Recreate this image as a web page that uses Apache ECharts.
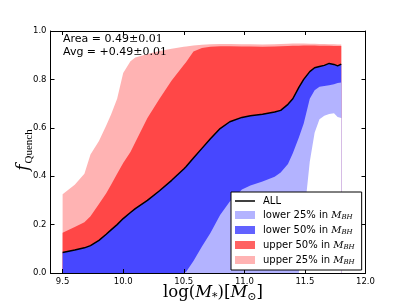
<!DOCTYPE html>
<html>
<head>
<meta charset="utf-8">
<script src="https://cdn.jsdelivr.net/npm/echarts@6/dist/echarts.min.js"></script>
<style>html,body{margin:0;padding:0;background:#fff;}#c{width:407px;height:305px;}</style>
</head>
<body>
<div id="c"></div>
<script>
// log(M*) sample positions
const xVals = [9.5, 9.6, 9.68, 9.73, 9.8, 9.86, 9.9, 9.95, 10.0, 10.06, 10.1, 10.2, 10.3, 10.4, 10.5, 10.52, 10.58, 10.65, 10.72, 10.8, 10.88, 10.98, 11.05, 11.15, 11.25, 11.3, 11.36, 11.4, 11.45, 11.49, 11.54, 11.58, 11.62, 11.66, 11.7, 11.74, 11.77, 11.8];
// f_Quench, all galaxies
const fAll = [0.085, 0.095, 0.104, 0.113, 0.135, 0.16, 0.178, 0.2, 0.225, 0.25, 0.266, 0.30, 0.34, 0.383, 0.43, 0.44, 0.475, 0.515, 0.555, 0.597, 0.625, 0.643, 0.65, 0.656, 0.665, 0.672, 0.697, 0.72, 0.767, 0.80, 0.832, 0.848, 0.853, 0.858, 0.866, 0.862, 0.856, 0.863];
// upper 25% in M_BH
const fUp25 = [0.325, 0.365, 0.41, 0.49, 0.545, 0.61, 0.655, 0.72, 0.826, 0.875, 0.89, 0.905, 0.917, 0.927, 0.935, 0.936, 0.94, 0.943, 0.945, 0.946, 0.946, 0.945, 0.945, 0.944, 0.945, 0.946, 0.947, 0.948, 0.948, 0.948, 0.947, 0.947, 0.946, 0.946, 0.945, 0.945, 0.944, 0.944];
// upper 50% in M_BH
const fUp50 = [0.166, 0.19, 0.21, 0.235, 0.285, 0.33, 0.365, 0.41, 0.455, 0.50, 0.54, 0.64, 0.72, 0.795, 0.86, 0.872, 0.915, 0.93, 0.935, 0.937, 0.937, 0.936, 0.936, 0.935, 0.936, 0.937, 0.938, 0.939, 0.939, 0.94, 0.94, 0.94, 0.939, 0.939, 0.939, 0.938, 0.938, 0.938];
// lower 50% in M_BH
const fLow50 = [0, 0, 0, 0, 0, 0, 0, 0, 0, 0, 0, 0, 0, 0, 0, 0.005, 0.05, 0.11, 0.165, 0.24, 0.295, 0.345, 0.362, 0.378, 0.398, 0.415, 0.45, 0.495, 0.56, 0.618, 0.72, 0.755, 0.77, 0.773, 0.776, 0.78, 0.785, 0.787];
// lower 25% in M_BH
const fLow25 = [0, 0, 0, 0, 0, 0, 0, 0, 0, 0, 0, 0, 0, 0, 0, 0, 0, 0, 0, 0, 0, 0, 0, 0, 0, 0, 0, 0, 0, 0.22, 0.46, 0.58, 0.635, 0.65, 0.657, 0.66, 0.645, 0.64];
const xTicks = [9.5, 10.0, 10.5, 11.0, 11.5, 12.0];
const yTicks = [0.0, 0.2, 0.4, 0.6, 0.8, 1.0];
const legendNames = ['ALL', 'lower 25%', 'lower 50%', 'upper 50%', 'upper 25%'];

const pts = arr => xVals.map((x, i) => [x, arr[i]]);
const C = {pink: '#ffb3b3', red: '#ff4747', blue: '#4747ff', lblue: '#b3b3ff'};

function area(name, data, color) {
  return {
    name: name, type: 'line', data: pts(data), symbol: 'none', silent: true,
    color: color, itemStyle: {color: color},
    lineStyle: {width: 0, opacity: 0},
    areaStyle: {color: color, opacity: 1, origin: 'start'}
  };
}

const tickFont = {fontFamily: 'DejaVu Sans', fontSize: 8.5, color: '#000'};
function xAx(pos, showLabel) {
  return {
    type: 'value', position: pos, min: 9.4, max: 12.0, z: 10,
    axisLine: {show: true, onZero: false, lineStyle: {color: '#000', width: 1}},
    axisTick: {show: true, inside: true, length: 4, customValues: xTicks, lineStyle: {color: '#000'}},
    axisLabel: Object.assign({show: showLabel, customValues: xTicks, margin: 4, formatter: v => v.toFixed(1)}, tickFont),
    splitLine: {show: false}
  };
}
function yAx(pos, showLabel) {
  return {
    type: 'value', position: pos, min: 0, max: 1, interval: 0.2, z: 10,
    axisLine: {show: true, onZero: false, lineStyle: {color: '#000', width: 1}},
    axisTick: {show: true, inside: true, length: 4, lineStyle: {color: '#000'}},
    axisLabel: Object.assign({show: showLabel, margin: 4, formatter: v => v.toFixed(1)}, tickFont),
    splitLine: {show: false}
  };
}

const chart = echarts.init(document.getElementById('c'), null, {renderer: 'canvas'});
chart.setOption({
  animation: false,
  backgroundColor: '#fff',
  grid: {left: 50.5, right: 41.5, top: 31, bottom: 32, containLabel: false},
  xAxis: [xAx('bottom', true), xAx('top', false)],
  yAxis: [yAx('left', true), yAx('right', false)],
  legend: {
    orient: 'vertical', left: 231, top: 192,
    padding: [4, 7, 4, 4], itemGap: 4, itemWidth: 20, itemHeight: 8,
    backgroundColor: '#fff', borderColor: '#000', borderWidth: 1, borderRadius: 0,
    z: 20, selectedMode: false, symbolKeepAspect: true,
    data: [
      {name: legendNames[0], icon: 'path://M0,0 L40,0 L40,3 L0,3 Z', itemStyle: {color: '#000'}},
      {name: legendNames[1], icon: 'rect', itemStyle: {color: C.lblue}},
      {name: legendNames[2], icon: 'rect', itemStyle: {color: '#6262ff'}},
      {name: legendNames[3], icon: 'rect', itemStyle: {color: '#ff6262'}},
      {name: legendNames[4], icon: 'rect', itemStyle: {color: C.pink}}
    ],
    formatter: n => n === 'ALL' ? '{t|ALL}' : '{t|' + n + ' in }{m|M}{s|BH}',
    textStyle: {
      color: '#000',
      rich: {
        t: {fontFamily: 'DejaVu Sans', fontSize: 10, lineHeight: 12, padding: [0, 0, 0, 3]},
        m: {fontFamily: 'DejaVu Serif', fontStyle: 'italic', fontSize: 10, lineHeight: 12},
        s: {fontFamily: 'DejaVu Serif', fontStyle: 'italic', fontSize: 7, lineHeight: 12, verticalAlign: 'bottom', padding: [3, 0, 0, 0]}
      }
    }
  },
  series: [
    area(legendNames[4], fUp25, C.pink),
    area(legendNames[3], fUp50, C.red),
    area(legendNames[2], fAll, C.blue),
    area(legendNames[1], fLow50, C.lblue),
    area('cover', fLow25, '#ffffff'),
    {
      name: legendNames[0], type: 'line', data: pts(fAll), symbol: 'none', silent: true, z: 5,
      color: '#000', itemStyle: {color: '#000'},
      lineStyle: {color: '#000', width: 1.5}
    }
  ],
  graphic: [
    {
      type: 'text', left: 63, top: 34, z: 30,
      style: {
        text: '{s|Area = 0.49}{m|±0.01}',
        rich: {
          s: {fontFamily: 'DejaVu Sans', fontSize: 11, fill: '#000', lineHeight: 13},
          m: {fontFamily: 'DejaVu Serif', fontSize: 11, fill: '#000', lineHeight: 13}
        }
      }
    },
    {
      type: 'text', left: 63, top: 46.5, z: 30,
      style: {
        text: '{s|Avg = +0.49}{m|±0.01}',
        rich: {
          s: {fontFamily: 'DejaVu Sans', fontSize: 11, fill: '#000', lineHeight: 13},
          m: {fontFamily: 'DejaVu Serif', fontSize: 11, fill: '#000', lineHeight: 13}
        }
      }
    },
    {
      type: 'text', x: 213, y: 293, z: 30,
      style: {
        text: '{r|log(}{i|M}{b|*}{r|)[}{i|M}{b|⊙}{r|]}',
        align: 'center', verticalAlign: 'middle',
        rich: {
          r: {fontFamily: 'DejaVu Serif', fontSize: 16.5, fill: '#000', lineHeight: 19},
          i: {fontFamily: 'DejaVu Serif', fontStyle: 'italic', fontSize: 16.5, fill: '#000', lineHeight: 19},
          b: {fontFamily: 'DejaVu Serif', fontSize: 11, fill: '#000', lineHeight: 19, verticalAlign: 'bottom', padding: [4, 0, 0, 0]}
        }
      }
    },
    {
      type: 'text', x: 24, y: 150, rotation: Math.PI / 2, z: 30,
      style: {
        text: '{f|f}{q|Quench}',
        align: 'center', verticalAlign: 'middle',
        rich: {
          f: {fontFamily: 'DejaVu Serif', fontStyle: 'italic', fontSize: 17, fill: '#000', lineHeight: 22},
          q: {fontFamily: 'Liberation Serif', fontSize: 11, fill: '#000', lineHeight: 22, verticalAlign: 'bottom', padding: [4, 0, 0, 1]}
        }
      }
    }
  ]
});
</script>
</body>
</html>
